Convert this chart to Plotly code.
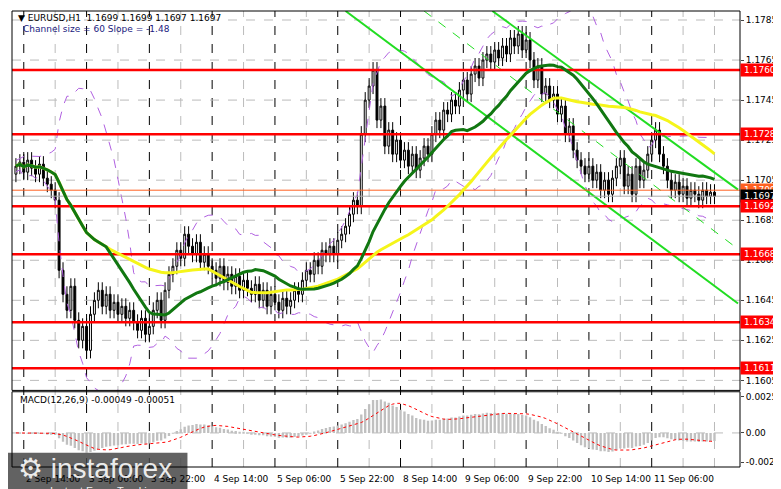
import plotly.graph_objects as go
import pandas as pd
import numpy as np

closes = [
1.1712,1.1714,1.1709,1.1715,1.1711,1.1708,1.1713,1.1706,1.1703,1.1700,
1.1695,1.1660,1.1648,1.1640,1.1652,1.1635,1.1625,1.1632,1.1620,1.1638,
1.1645,1.1650,1.1642,1.1648,1.1640,1.1644,1.1638,1.1642,1.1636,1.1640,
1.1634,1.1630,1.1636,1.1628,1.1632,1.1640,1.1645,1.1635,1.1650,1.1658,
1.1662,1.1670,1.1666,1.1678,1.1672,1.1668,1.1674,1.1664,1.1668,1.1662,
1.1660,1.1656,1.1662,1.1654,1.1658,1.1652,1.1657,1.1650,1.1655,1.1651,
1.1648,1.1653,1.1645,1.1650,1.1642,1.1648,1.1644,1.1640,1.1646,1.1642,
1.1645,1.1650,1.1648,1.1655,1.1660,1.1658,1.1665,1.1662,1.1670,1.1668,
1.1672,1.1668,1.1675,1.1678,1.1682,1.1688,1.1695,1.1692,1.1728,1.1745,
1.1752,1.1760,1.1735,1.1742,1.1722,1.1730,1.1718,1.1725,1.1715,1.1720,
1.1712,1.1718,1.1710,1.1716,1.1722,1.1718,1.1728,1.1735,1.1730,1.1740,
1.1738,1.1745,1.1742,1.1750,1.1755,1.1748,1.1758,1.1762,1.1756,1.1765,
1.1768,1.1764,1.1770,1.1766,1.1772,1.1768,1.1776,1.1772,1.1778,1.1770,
1.1775,1.1765,1.1755,1.1762,1.1748,1.1752,1.1745,1.1748,1.1738,1.1742,
1.1728,1.1732,1.1720,1.1715,1.1712,1.1708,1.1712,1.1705,1.1709,1.1700,
1.1705,1.1698,1.1706,1.1712,1.1716,1.1702,1.1708,1.1698,1.1712,1.1705,
1.1710,1.1718,1.1725,1.1730,1.1718,1.1712,1.1705,1.1700,1.1704,1.1698,
1.1702,1.1696,1.1700,1.1698,1.1695,1.1700,1.1697,1.1699,1.1697]
first_open = 1.1708
wick = 0.0004

levels = [1.1760, 1.1728, 1.1692, 1.1668, 1.1634, 1.1611]
price_ticks = [1.1605, 1.1625, 1.1645, 1.1665, 1.1685, 1.1705, 1.1725, 1.1745, 1.1765, 1.1785]
time_tick_idx = [2, 18, 34, 50, 66, 82, 98, 114, 130, 146, 162]
time_tick_labels = ["2 Sep 14:00", "3 Sep 06:00", "3 Sep 22:00", "4 Sep 14:00", "5 Sep 06:00",
                    "5 Sep 22:00", "8 Sep 14:00", "9 Sep 06:00", "9 Sep 22:00", "10 Sep 14:00", "11 Sep 06:00"]
channel_solid = [(84, 1.17895, 184, 1.16434), (121.4, 1.17895, 184, 1.17003)]
channel_dash = [(104, 1.17895, 184, 1.16706)]
macd_ticks = [0.00254, 0.0, -0.00207]
macd_tick_labels = ["0.00254", "0.00", "-0.00207"]

n = len(closes)
idx = list(range(n))
opens = [first_open] + closes[:-1]
highs = [max(o, c) + wick for o, c in zip(opens, closes)]
lows = [min(o, c) - wick for o, c in zip(opens, closes)]
s = pd.Series(closes)
ma_fast = s.rolling(24, min_periods=1).mean()
ma_slow = s.rolling(50, min_periods=1).mean()
bb_mid = s.rolling(20, min_periods=1).mean()
bb_sd = s.rolling(20, min_periods=2).std().bfill()
ema12 = s.ewm(span=12).mean(); ema26 = s.ewm(span=26).mean()
macd = ema12 - ema26
signal = macd.rolling(9, min_periods=1).mean()

fig = go.Figure()
font = dict(family="DejaVu Sans", size=9, color="black")

for i in range(2, 185, 8):
    major = i in time_tick_idx
    fig.add_shape(type="line", xref="x", yref="paper", x0=i, x1=i, y0=0, y1=1,
                  line=dict(color="black" if major else "#bbbbbb", width=1, dash="dash"), layer="below")
for p in price_ticks:
    fig.add_shape(type="line", xref="x", yref="y", x0=-1, x1=184.5, y0=p, y1=p,
                  line=dict(color="#bbbbbb", width=1, dash="dash"), layer="below")

fig.add_trace(go.Scatter(x=idx, y=bb_mid + 2 * bb_sd, mode="lines", line=dict(color="#b060e0", width=1, dash="dash"), xaxis="x", yaxis="y"))
fig.add_trace(go.Scatter(x=idx, y=bb_mid - 2 * bb_sd, mode="lines", line=dict(color="#b060e0", width=1, dash="dash"), xaxis="x", yaxis="y"))

for (a, b, c, d) in channel_solid:
    fig.add_trace(go.Scatter(x=[a, c], y=[b, d], mode="lines", line=dict(color="#22dd22", width=2), xaxis="x", yaxis="y"))
for (a, b, c, d) in channel_dash:
    fig.add_trace(go.Scatter(x=[a, c], y=[b, d], mode="lines", line=dict(color="#22dd22", width=1, dash="dash"), xaxis="x", yaxis="y"))

for lv in levels:
    fig.add_trace(go.Scatter(x=[-1, 184.5], y=[lv, lv], mode="lines", line=dict(color="#ff0000", width=2.5), xaxis="x", yaxis="y"))
fig.add_trace(go.Scatter(x=[-1, 184.5], y=[1.1700, 1.1700], mode="lines", line=dict(color="#ff6020", width=1), xaxis="x", yaxis="y"))
fig.add_trace(go.Scatter(x=[-1, 184.5], y=[closes[-1]] * 2, mode="lines", line=dict(color="#aaaaaa", width=1), xaxis="x", yaxis="y"))

fig.add_trace(go.Candlestick(x=idx, open=opens, high=highs, low=lows, close=closes,
    increasing=dict(line=dict(color="black", width=1), fillcolor="white"),
    decreasing=dict(line=dict(color="black", width=1), fillcolor="black"),
    whiskerwidth=0, xaxis="x", yaxis="y"))

fig.add_trace(go.Scatter(x=idx, y=ma_slow, mode="lines", line=dict(color="#f5f51a", width=3), xaxis="x", yaxis="y"))
fig.add_trace(go.Scatter(x=idx, y=ma_fast, mode="lines", line=dict(color="#117711", width=3), xaxis="x", yaxis="y"))

fig.add_trace(go.Bar(x=idx, y=macd, marker=dict(color="#c0c0c0", line=dict(width=0)), width=0.6, xaxis="x2", yaxis="y2"))
fig.add_trace(go.Scatter(x=idx, y=signal, mode="lines", line=dict(color="#ff0000", width=1, dash="dot"), xaxis="x2", yaxis="y2"))

ann = []
def box(y, text, bg, yref="y"):
    ann.append(dict(x=1.0, xref="paper", y=y, yref=yref, text=text, showarrow=False, xanchor="left",
                    bgcolor=bg, font=dict(family="DejaVu Sans", size=9, color="white"), borderpad=1, width=36, align="center"))
box(1.1700, "1.1700", "#ff6020")
box(closes[-1], f"{closes[-1]:.4f}", "black")
for lv in levels:
    box(lv, f"{lv:.4f}", "#ff0000")
for i, t in zip(time_tick_idx, time_tick_labels):
    ann.append(dict(x=i, xref="x2", y=-0.012, yref="paper", text=t, showarrow=False, xanchor="left", yanchor="top", font=font))
ann.append(dict(x=0.005, xref="paper", y=1.0, yref="paper", text="▼ EURUSD,H1  1.1699 1.1699 1.1697 1.1697",
                showarrow=False, xanchor="left", yanchor="top", font=font))
ann.append(dict(x=0.012, xref="paper", y=0.975, yref="paper", text="Channel size = 60 Slope = -1.48",
                showarrow=False, xanchor="left", yanchor="top", font=dict(family="DejaVu Sans", size=9, color="#1a1a80")))
ann.append(dict(x=0.008, xref="paper", y=0.163, yref="paper", text="MACD(12,26,9) -0.00049 -0.00051",
                showarrow=False, xanchor="left", yanchor="top", font=font))

fig.add_shape(type="rect", xref="paper", yref="paper", x0=-0.01, x1=0.241, y0=-0.075, y1=0.031,
              fillcolor="rgba(70,70,70,0.85)", line=dict(width=0), layer="above")
ann.append(dict(x=0.005, xref="paper", y=0.035, yref="paper", text="⚙ instaforex", showarrow=False, xanchor="left", yanchor="top",
                font=dict(family="Liberation Sans", size=28, color="rgba(255,255,255,0.9)")))
ann.append(dict(x=0.05, xref="paper", y=-0.035, yref="paper", text="Instant Forex Tracking", showarrow=False, xanchor="left", yanchor="top",
                font=dict(family="Liberation Sans", size=11, color="rgba(255,255,255,0.9)")))
fig.add_shape(type="rect", xref="paper", yref="paper", x0=0, x1=1, y0=0, y1=0.165, line=dict(color="black", width=1))
fig.add_shape(type="rect", xref="paper", yref="paper", x0=0, x1=1, y0=0.168, y1=1, line=dict(color="black", width=1))

fig.update_layout(
    width=781, height=489, margin=dict(l=4, r=40, t=3, b=30),
    paper_bgcolor="white", plot_bgcolor="white", showlegend=False, annotations=ann,
    xaxis=dict(domain=[0, 1], range=[-1, 184.5], showticklabels=False, showgrid=False, zeroline=False,
               rangeslider=dict(visible=False), anchor="y"),
    xaxis2=dict(domain=[0, 1], range=[-1, 184.5], showticklabels=False, showgrid=False, zeroline=False,
                matches="x", anchor="y2"),
    yaxis=dict(domain=[0.168, 1], range=[1.1600, 1.17895], side="right", tickvals=price_ticks,
               ticktext=[f"{p:.4f}" for p in price_ticks], showgrid=False, zeroline=False, tickfont=font, ticks="outside", ticklen=3),
    yaxis2=dict(domain=[0, 0.165], range=[-0.0024, 0.0029], side="right", tickvals=macd_ticks, ticktext=macd_tick_labels,
                showgrid=False, zeroline=False, tickfont=font, ticks="outside", ticklen=3),
    bargap=0.3,
)
fig.add_shape(type="line", xref="x2", yref="y2", x0=-1, x1=184.5, y0=0, y1=0, line=dict(color="#bbbbbb", width=1, dash="dash"), layer="below")
fig.write_html("out.html")
